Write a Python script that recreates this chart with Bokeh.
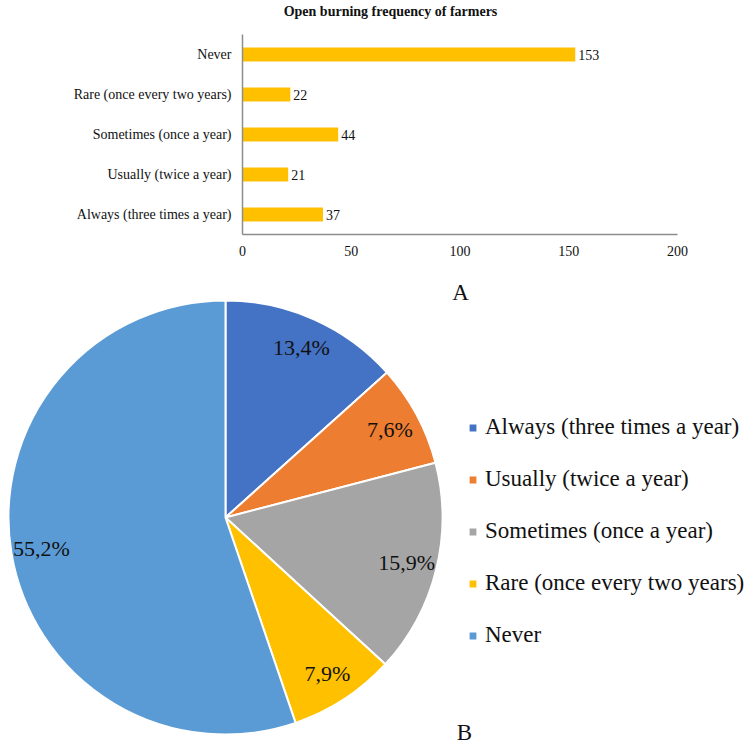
import numpy as np
from bokeh.plotting import figure
from bokeh.models import FactorRange, Range1d, Label, ColumnDataSource, FixedTicker
from bokeh.embed import file_html
from bokeh.resources import INLINE
from bokeh.core.properties import value

# ---------------- data ----------------
categories = ["Always (three times a year)", "Usually (twice a year)",
              "Sometimes (once a year)", "Rare (once every two years)", "Never"]
counts = [37, 21, 44, 22, 153]
x_ticks = [0, 50, 100, 150, 200]
pie_colors = ["#4472C4", "#ED7D31", "#A5A5A5", "#FFC000", "#5B9BD5"]
bar_color = "#FFC000"
title_text = "Open burning frequency of farmers"
panel_a = "A"
panel_b = "B"

SERIF = "Liberation Serif"
TXT = "#111111"
AXIS = "#8c8c8c"

# ---------------- title strip ----------------
p0 = figure(x_range=Range1d(0, 754), y_range=Range1d(0, 22),
            frame_width=754, frame_height=22, min_border=0,
            x_axis_location=None, y_axis_location=None,
            output_backend="svg", toolbar_location=None, title=None)
p0.outline_line_color = None
p0.grid.visible = False
p0.add_layout(Label(x=390, y=11, text=title_text, text_align="center",
                    text_baseline="middle", text_font=SERIF,
                    text_font_size="14px", text_font_style="bold",
                    text_color=TXT))

# ---------------- bar chart ----------------
p1 = figure(x_range=Range1d(0, 200), y_range=FactorRange(factors=categories),
            frame_width=435, frame_height=200,
            min_border_left=242, min_border_right=77,
            min_border_top=12, min_border_bottom=46,
            output_backend="svg", toolbar_location=None, title=None)
p1.outline_line_color = None
p1.grid.visible = False

bsrc = ColumnDataSource(dict(cat=categories, count=counts,
                             lab=[str(c) for c in counts]))
p1.hbar(y="cat", right="count", left=0, height=0.35, source=bsrc,
        fill_color=bar_color, line_color=None)
p1.text(x="count", y="cat", text="lab", source=bsrc, x_offset=3,
        text_align="left", text_baseline="middle",
        text_font=value(SERIF), text_font_size="14px", text_color=TXT)

p1.xaxis.ticker = FixedTicker(ticks=x_ticks)
for ax in (p1.xaxis, p1.yaxis):
    ax.axis_line_color = AXIS
    ax.axis_line_width = 1.5
    ax.major_tick_line_color = None
    ax.minor_tick_line_color = None
    ax.major_tick_in = 0
    ax.major_tick_out = 0
    ax.major_label_text_font = SERIF
    ax.major_label_text_font_size = "14px"
    ax.major_label_text_color = TXT
p1.xaxis.major_label_standoff = 11
p1.yaxis.major_label_standoff = 11

# ---------------- pie chart ----------------
p2 = figure(x_range=Range1d(0, 754), y_range=Range1d(0, 466),
            frame_width=754, frame_height=466, min_border=0,
            x_axis_location=None, y_axis_location=None,
            output_backend="svg", toolbar_location=None, title=None)
p2.outline_line_color = None
p2.grid.visible = False

cx, cy, R = 225, 229, 217
frac = np.array(counts, dtype=float) / sum(counts)
cum = np.concatenate([[0], np.cumsum(frac)])
start = np.pi / 2 - 2 * np.pi * cum[:-1]
end = np.pi / 2 - 2 * np.pi * cum[1:]
mid = 2 * np.pi * (cum[:-1] + cum[1:]) / 2
rl = 0.86 * R
lx = cx + rl * np.sin(mid)
ly = cy + rl * np.cos(mid)
pct = [f"{100 * f:.1f}%".replace(".", ",") for f in frac]

psrc = ColumnDataSource(dict(cat=categories, start=start, end=end,
                             color=pie_colors, lx=lx, ly=ly, pct=pct))
p2.wedge(x=cx, y=cy, radius=R, start_angle="start", end_angle="end",
         direction="clock", fill_color="color", line_color="white",
         line_width=2, source=psrc, legend_field="cat")
p2.text(x="lx", y="ly", text="pct", source=psrc, text_align="center",
        text_baseline="middle", text_font=value(SERIF),
        text_font_size="22px", text_color=TXT)

lg = p2.legend[0]
lg.location = (467, 98)
lg.padding = 0
lg.margin = 0
lg.border_line_color = None
lg.background_fill_alpha = 0
lg.glyph_width = 11
lg.glyph_height = 11
lg.label_standoff = 7
lg.label_height = 26
lg.spacing = 26
lg.label_text_font = SERIF
lg.label_text_font_size = "23px"
lg.label_text_color = TXT

p2.add_layout(Label(x=460, y=454, text=panel_a, text_align="center",
                    text_baseline="middle", text_font=SERIF,
                    text_font_size="23px", text_color=TXT))
p2.add_layout(Label(x=464, y=14, text=panel_b, text_align="center",
                    text_baseline="middle", text_font=SERIF,
                    text_font_size="23px", text_color=TXT))

open("out.html", "w").write(file_html([p0, p1, p2], INLINE))
